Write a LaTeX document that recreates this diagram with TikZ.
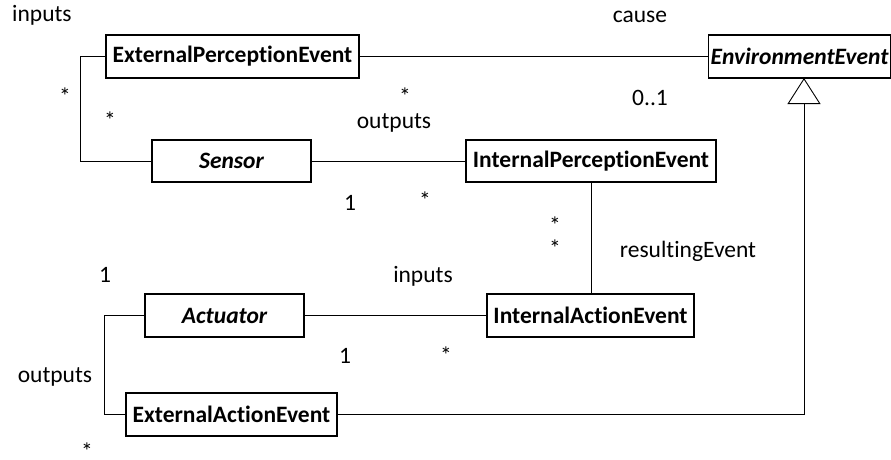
\documentclass[tikz,border=0pt]{standalone}
\usepackage{fontspec}
\setmainfont[Ligatures=NoCommon]{Carlito}
\usetikzlibrary{arrows.meta}

\newcommand\diagfont{\fontsize{23.5}{28}\selectfont}

\tikzset{
  cls/.style={draw, line width=1.4pt, inner sep=2pt, font=\diagfont\bfseries},
  abscls/.style={cls, font=\diagfont\bfseries\itshape},
  lbl/.style={anchor=base, inner sep=0pt},
  assoc/.style={line width=0.9pt},
  gen/.style={line width=0.9pt, -{Triangle[open, length=26pt, width=33pt, line width=0.9pt]}}
}

\begin{document}
\begin{tikzpicture}[x=1pt, y=-1pt, font=\diagfont]
  \useasboundingbox (0,0) rectangle (891,460);
  \clip (0,0) rectangle (891,460);

  % classes
  \node[cls, minimum width=253pt, minimum height=43pt] (epe) at (232.5,56.5) {ExternalPerceptionEvent};
  \node[abscls, minimum width=159pt, minimum height=42pt] (sensor) at (231.5,161) {Sensor};
  \node[abscls, anchor=west, minimum height=43pt, inner xsep=2pt] (env) at (708,56.5) {EnvironmentEvent};
  \node[cls, minimum width=250pt, minimum height=42pt] (ipe) at (591,161) {InternalPerceptionEvent};
  \node[abscls, minimum width=159pt, minimum height=43pt] (act) at (224.5,315.5) {Actuator};
  \node[cls, minimum width=207pt, minimum height=43pt] (iae) at (590.5,315.5) {InternalActionEvent};
  \node[cls, minimum width=211pt, minimum height=43pt] (eae) at (231.5,414.5) {ExternalActionEvent};

  % bend points of the orthogonal associations
  \coordinate (c1) at (80,56.5);
  \coordinate (c2) at (104,315.5);
  \coordinate (c3) at (804,414.5);
  \coordinate (apex) at (804,78);

  % associations
  \draw[assoc] (epe.west) -- (c1) |- (sensor.west);
  \draw[assoc] (epe.east) -- (env.west);
  \draw[assoc] (sensor.east) -- (ipe.west);
  \draw[assoc] (ipe.south) -- (ipe.south |- iae.north);
  \draw[assoc] (act.east) -- (iae.west);
  \draw[assoc] (act.west) -- (c2) |- (eae.west);

  % generalization
  \draw[assoc] (eae.east) -- (c3);
  \draw[gen] (c3) -- (apex);

  % role names and multiplicities
  \node[lbl, anchor=base west] (l1) at (12,22) {inputs};
  \node[lbl] (l2) at (65,104) {*};
  \node[lbl] (l3) at (110,128) {*};
  \node[lbl] (l4) at (405,104) {*};
  \node[lbl] (l5) at (394,128) {outputs};
  \node[lbl] (l6) at (350,210) {1};
  \node[lbl] (l7) at (425,208) {*};
  \node[lbl] (l8) at (640,23) {cause};
  \node[lbl] (l9) at (650,105) {0..1};
  \node[lbl] (l10) at (555,233) {*};
  \node[lbl] (l11) at (555,256) {*};
  \node[lbl] (l12) at (688,257) {resultingEvent};
  \node[lbl] (l13) at (105,282) {1};
  \node[lbl] (l14) at (423,282) {inputs};
  \node[lbl] (l15) at (345,363) {1};
  \node[lbl] (l16) at (446,363) {*};
  \node[lbl] (l17) at (55,382) {outputs};
  \node[lbl] (l18) at (87,459) {*};
\end{tikzpicture}
\end{document}
